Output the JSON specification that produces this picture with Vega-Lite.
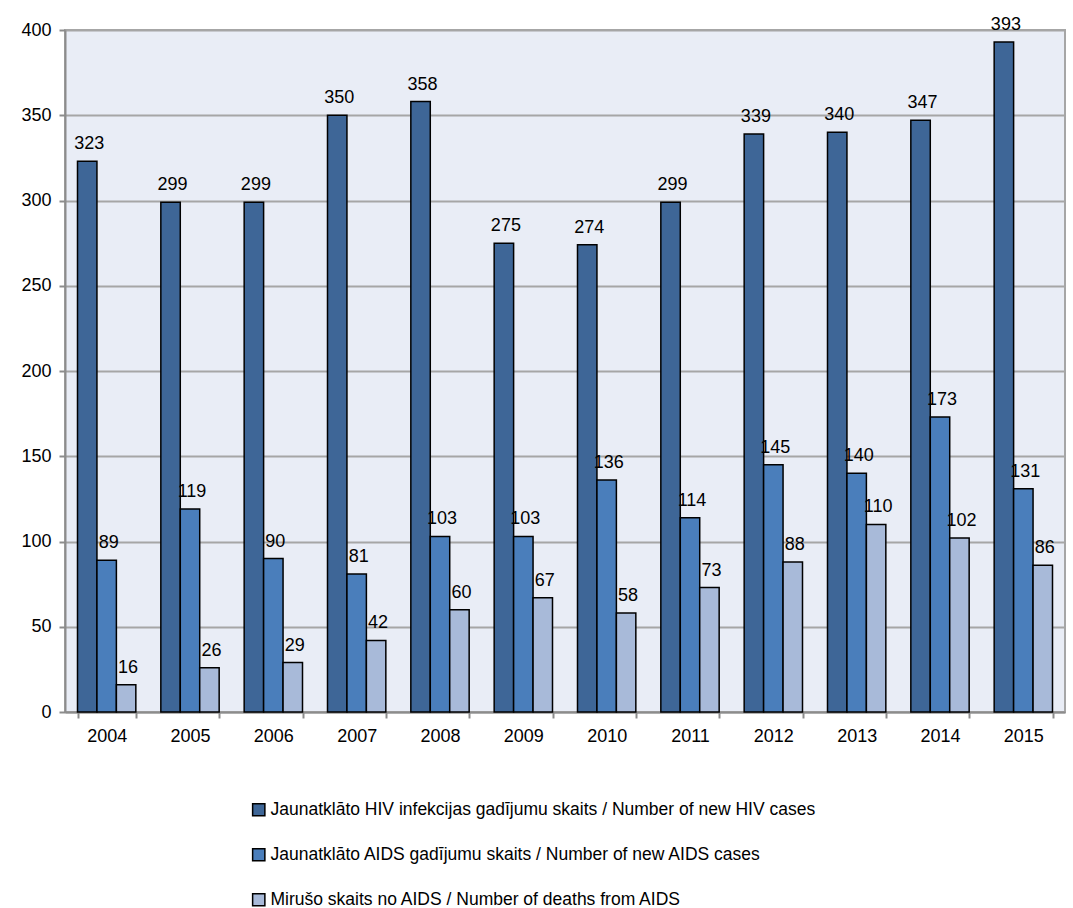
{
  "$schema": "https://vega.github.io/schema/vega-lite/v6.json",
  "autosize": "none",
  "width": 1000,
  "height": 682,
  "padding": {"left": 65, "top": 30, "right": 8, "bottom": 196},
  "background": "white",
  "config": {
    "font": "Liberation Sans",
    "view": {"fill": "#E9EDF6", "stroke": "#A6A6A6", "strokeWidth": 2}
  },
  "data": {
    "values": [
      {"year": "2004", "s": "Jaunatklāto HIV infekcijas gadījumu skaits /  Number of new HIV cases", "v": 323},
      {"year": "2004", "s": "Jaunatklāto AIDS gadījumu skaits / Number of new AIDS cases", "v": 89},
      {"year": "2004", "s": "Mirušo skaits no AIDS / Number of deaths from AIDS", "v": 16},
      {"year": "2005", "s": "Jaunatklāto HIV infekcijas gadījumu skaits /  Number of new HIV cases", "v": 299},
      {"year": "2005", "s": "Jaunatklāto AIDS gadījumu skaits / Number of new AIDS cases", "v": 119},
      {"year": "2005", "s": "Mirušo skaits no AIDS / Number of deaths from AIDS", "v": 26},
      {"year": "2006", "s": "Jaunatklāto HIV infekcijas gadījumu skaits /  Number of new HIV cases", "v": 299},
      {"year": "2006", "s": "Jaunatklāto AIDS gadījumu skaits / Number of new AIDS cases", "v": 90},
      {"year": "2006", "s": "Mirušo skaits no AIDS / Number of deaths from AIDS", "v": 29},
      {"year": "2007", "s": "Jaunatklāto HIV infekcijas gadījumu skaits /  Number of new HIV cases", "v": 350},
      {"year": "2007", "s": "Jaunatklāto AIDS gadījumu skaits / Number of new AIDS cases", "v": 81},
      {"year": "2007", "s": "Mirušo skaits no AIDS / Number of deaths from AIDS", "v": 42},
      {"year": "2008", "s": "Jaunatklāto HIV infekcijas gadījumu skaits /  Number of new HIV cases", "v": 358},
      {"year": "2008", "s": "Jaunatklāto AIDS gadījumu skaits / Number of new AIDS cases", "v": 103},
      {"year": "2008", "s": "Mirušo skaits no AIDS / Number of deaths from AIDS", "v": 60},
      {"year": "2009", "s": "Jaunatklāto HIV infekcijas gadījumu skaits /  Number of new HIV cases", "v": 275},
      {"year": "2009", "s": "Jaunatklāto AIDS gadījumu skaits / Number of new AIDS cases", "v": 103},
      {"year": "2009", "s": "Mirušo skaits no AIDS / Number of deaths from AIDS", "v": 67},
      {"year": "2010", "s": "Jaunatklāto HIV infekcijas gadījumu skaits /  Number of new HIV cases", "v": 274},
      {"year": "2010", "s": "Jaunatklāto AIDS gadījumu skaits / Number of new AIDS cases", "v": 136},
      {"year": "2010", "s": "Mirušo skaits no AIDS / Number of deaths from AIDS", "v": 58},
      {"year": "2011", "s": "Jaunatklāto HIV infekcijas gadījumu skaits /  Number of new HIV cases", "v": 299},
      {"year": "2011", "s": "Jaunatklāto AIDS gadījumu skaits / Number of new AIDS cases", "v": 114},
      {"year": "2011", "s": "Mirušo skaits no AIDS / Number of deaths from AIDS", "v": 73},
      {"year": "2012", "s": "Jaunatklāto HIV infekcijas gadījumu skaits /  Number of new HIV cases", "v": 339},
      {"year": "2012", "s": "Jaunatklāto AIDS gadījumu skaits / Number of new AIDS cases", "v": 145},
      {"year": "2012", "s": "Mirušo skaits no AIDS / Number of deaths from AIDS", "v": 88},
      {"year": "2013", "s": "Jaunatklāto HIV infekcijas gadījumu skaits /  Number of new HIV cases", "v": 340},
      {"year": "2013", "s": "Jaunatklāto AIDS gadījumu skaits / Number of new AIDS cases", "v": 140},
      {"year": "2013", "s": "Mirušo skaits no AIDS / Number of deaths from AIDS", "v": 110},
      {"year": "2014", "s": "Jaunatklāto HIV infekcijas gadījumu skaits /  Number of new HIV cases", "v": 347},
      {"year": "2014", "s": "Jaunatklāto AIDS gadījumu skaits / Number of new AIDS cases", "v": 173},
      {"year": "2014", "s": "Mirušo skaits no AIDS / Number of deaths from AIDS", "v": 102},
      {"year": "2015", "s": "Jaunatklāto HIV infekcijas gadījumu skaits /  Number of new HIV cases", "v": 393},
      {"year": "2015", "s": "Jaunatklāto AIDS gadījumu skaits / Number of new AIDS cases", "v": 131},
      {"year": "2015", "s": "Mirušo skaits no AIDS / Number of deaths from AIDS", "v": 86}
    ]
  },
  "encoding": {
    "x": {
      "field": "year", "type": "nominal", "title": null,
      "scale": {"paddingInner": 0.3, "paddingOuter": 0.15},
      "axis": {"labelAngle": 0, "labelFontSize": 18, "labelColor": "#000", "labelPadding": 9,
               "domainColor": "#8C8C8C", "domainWidth": 2, "tickColor": "#8C8C8C", "tickWidth": 2,
               "tickSize": 6, "tickBand": "extent"}
    },
    "xOffset": {"field": "s", "type": "nominal", "sort": null, "scale": {"paddingInner": 0}},
    "y": {
      "field": "v", "type": "quantitative", "title": null,
      "scale": {"domain": [0, 400]},
      "axis": {"values": [0, 50, 100, 150, 200, 250, 300, 350, 400], "labelFontSize": 18, "labelColor": "#000",
               "labelPadding": 8, "gridColor": "#A6A6A6", "gridWidth": 2, "domainColor": "#8C8C8C",
               "domainWidth": 2, "tickColor": "#8C8C8C", "tickWidth": 2, "tickSize": 6}
    }
  },
  "layer": [
    {
      "mark": {"type": "bar", "stroke": "#000", "strokeWidth": 1.5},
      "encoding": {
        "color": {
          "field": "s", "type": "nominal", "sort": null,
          "scale": {"range": ["#3E6697", "#4A7EBB", "#A8BAD9"]},
          "legend": {
            "title": null, "orient": "none", "direction": "vertical",
            "legendX": 185, "legendY": 771,
            "symbolType": "square", "symbolSize": 150, "symbolStrokeColor": "#000", "symbolStrokeWidth": 1.5,
            "labelFontSize": 17.5, "labelColor": "#000", "labelLimit": 800, "rowPadding": 26, "labelOffset": 3
          }
        }
      }
    },
    {
      "mark": {"type": "text", "baseline": "bottom", "dx": 2, "dy": -8, "fontSize": 18, "color": "#000"},
      "encoding": {"text": {"field": "v", "type": "quantitative"}}
    }
  ]
}
